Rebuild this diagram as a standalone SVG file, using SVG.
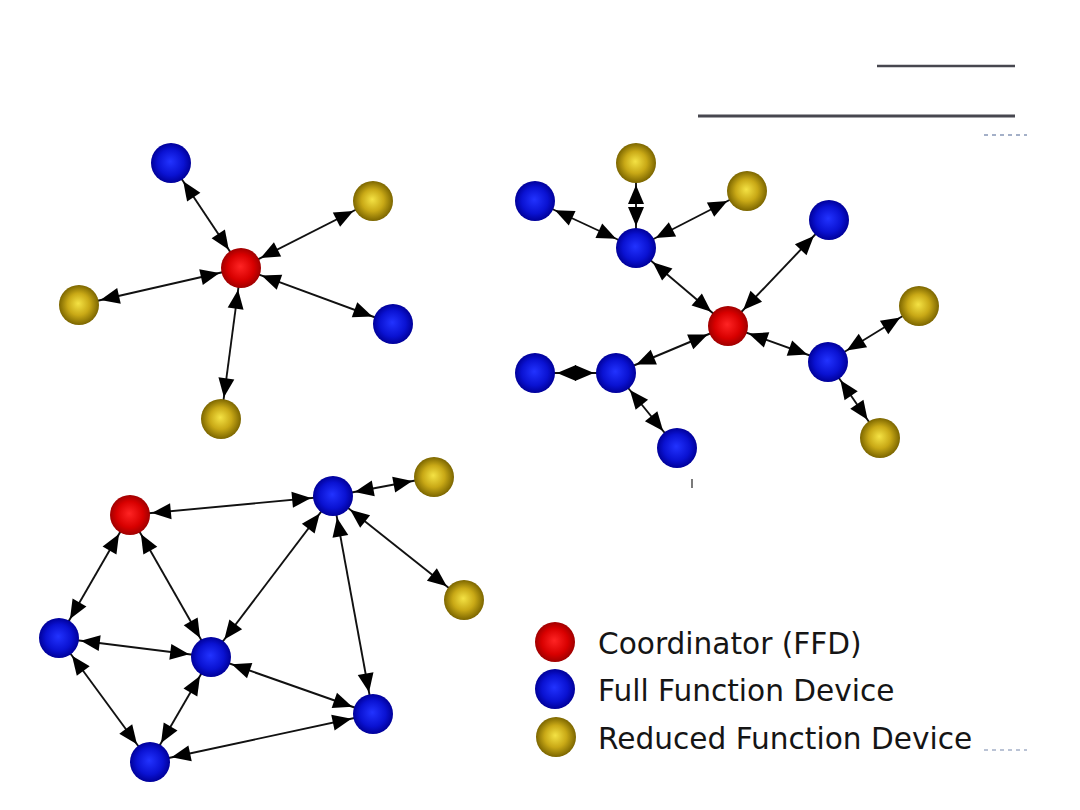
<svg xmlns="http://www.w3.org/2000/svg" width="1080" height="810" viewBox="0 0 1080 810">
<defs>
<radialGradient id="gBlue" cx="50%" cy="50%" r="50%" fx="48%" fy="46%">
<stop offset="0%" stop-color="#2233ff"/><stop offset="65%" stop-color="#0a12d2"/><stop offset="100%" stop-color="#00009a"/>
</radialGradient>
<radialGradient id="gRed" cx="50%" cy="50%" r="50%" fx="48%" fy="46%">
<stop offset="0%" stop-color="#ff2424"/><stop offset="65%" stop-color="#d80000"/><stop offset="100%" stop-color="#a00000"/>
</radialGradient>
<radialGradient id="gGold" cx="50%" cy="50%" r="50%" fx="48%" fy="46%">
<stop offset="0%" stop-color="#f4e244"/><stop offset="55%" stop-color="#c9a916"/><stop offset="100%" stop-color="#7c6600"/>
</radialGradient>
<marker id="ah" viewBox="-42 -9 42 18" refX="0" refY="0" markerWidth="42" markerHeight="18" markerUnits="userSpaceOnUse" orient="auto-start-reverse" overflow="visible">
<path d="M-22,0 L-41,-8 L-41,8 Z" fill="#000"/>
</marker>
</defs>
<style>
.c{stroke:#111;stroke-width:1.9;fill:none;marker-start:url(#ah);marker-end:url(#ah)}
.b{fill:url(#gBlue)}
.r{fill:url(#gRed)}
.g{fill:url(#gGold)}
.lg{font-family:"DejaVu Sans","Liberation Sans",sans-serif;font-size:29.6px;fill:#151515}
</style>
<rect width="1080" height="810" fill="#fff"/>
<g id="decor">
<line x1="877" y1="66" x2="1015" y2="66" stroke="#47474f" stroke-width="2.5"/>
<line x1="698" y1="116" x2="1015" y2="116" stroke="#47474f" stroke-width="3"/>
<line x1="984" y1="135" x2="1027" y2="135" stroke="#a4b0c8" stroke-width="2" stroke-dasharray="4,4"/>
<line x1="984" y1="750" x2="1027" y2="750" stroke="#a4b0c8" stroke-width="1.6" stroke-dasharray="4,4"/>
<line x1="692" y1="479" x2="692" y2="488" stroke="#222" stroke-width="1.2"/>
</g>
<g id="connectors">
<path class="c" d="M241,268 L171,163"/>
<path class="c" d="M241,268 L373,201"/>
<path class="c" d="M241,268 L79,305"/>
<path class="c" d="M241,268 L393,324"/>
<path class="c" d="M241,268 L221,419"/>
<path class="c" d="M636,163 L636,248"/>
<path class="c" d="M535,201 L636,248"/>
<path class="c" d="M747,191 L636,248"/>
<path class="c" d="M636,248 L728,326"/>
<path class="c" d="M829,220 L728,326"/>
<path class="c" d="M728,326 L828,362"/>
<path class="c" d="M828,362 L919,306"/>
<path class="c" d="M828,362 L880,438"/>
<path class="c" d="M728,326 L616,373"/>
<path class="c" d="M616,373 L535,373"/>
<path class="c" d="M616,373 L677,448"/>
<path class="c" d="M130,515 L333,496"/>
<path class="c" d="M130,515 L59,638"/>
<path class="c" d="M130,515 L211,657"/>
<path class="c" d="M333,496 L211,657"/>
<path class="c" d="M333,496 L373,714"/>
<path class="c" d="M333,496 L434,477"/>
<path class="c" d="M333,496 L464,600"/>
<path class="c" d="M59,638 L211,657"/>
<path class="c" d="M59,638 L150,762"/>
<path class="c" d="M211,657 L150,762"/>
<path class="c" d="M211,657 L373,714"/>
<path class="c" d="M150,762 L373,714"/>
</g>
<g id="star">
<g id="s-coord"><circle class="r" cx="241" cy="268" r="20"/></g>
<g id="s-ffd1"><circle class="b" cx="171" cy="163" r="20"/></g>
<g id="s-rfd1"><circle class="g" cx="373" cy="201" r="20"/></g>
<g id="s-rfd2"><circle class="g" cx="79" cy="305" r="20"/></g>
<g id="s-ffd2"><circle class="b" cx="393" cy="324" r="20"/></g>
<g id="s-rfd3"><circle class="g" cx="221" cy="419" r="20"/></g>
</g>
<g id="tree">
<g id="t-coord"><circle class="r" cx="728" cy="326" r="20"/></g>
<g id="t-rfd1"><circle class="g" cx="636" cy="163" r="20"/></g>
<g id="t-ffd1"><circle class="b" cx="535" cy="201" r="20"/></g>
<g id="t-rfd2"><circle class="g" cx="747" cy="191" r="20"/></g>
<g id="t-ffd2"><circle class="b" cx="636" cy="248" r="20"/></g>
<g id="t-ffd3"><circle class="b" cx="829" cy="220" r="20"/></g>
<g id="t-rfd3"><circle class="g" cx="919" cy="306" r="20"/></g>
<g id="t-ffd4"><circle class="b" cx="828" cy="362" r="20"/></g>
<g id="t-rfd4"><circle class="g" cx="880" cy="438" r="20"/></g>
<g id="t-ffd5"><circle class="b" cx="535" cy="373" r="20"/></g>
<g id="t-ffd6"><circle class="b" cx="616" cy="373" r="20"/></g>
<g id="t-ffd7"><circle class="b" cx="677" cy="448" r="20"/></g>
</g>
<g id="mesh">
<g id="m-coord"><circle class="r" cx="130" cy="515" r="20"/></g>
<g id="m-ffd1"><circle class="b" cx="333" cy="496" r="20"/></g>
<g id="m-ffd2"><circle class="b" cx="59" cy="638" r="20"/></g>
<g id="m-ffd3"><circle class="b" cx="211" cy="657" r="20"/></g>
<g id="m-ffd4"><circle class="b" cx="150" cy="762" r="20"/></g>
<g id="m-ffd5"><circle class="b" cx="373" cy="714" r="20"/></g>
<g id="m-rfd1"><circle class="g" cx="434" cy="477" r="20"/></g>
<g id="m-rfd2"><circle class="g" cx="464" cy="600" r="20"/></g>
</g>
<g id="legend">
<g id="lg-coord"><circle class="r" cx="555" cy="642" r="20"/><text class="lg" x="598" y="654">Coordinator (FFD)</text></g>
<g id="lg-ffd"><circle class="b" cx="555" cy="689" r="20"/><text class="lg" x="598" y="701">Full Function Device</text></g>
<g id="lg-rfd"><circle class="g" cx="556" cy="737" r="20"/><text class="lg" x="598" y="749">Reduced Function Device</text></g>
</g>
</svg>
